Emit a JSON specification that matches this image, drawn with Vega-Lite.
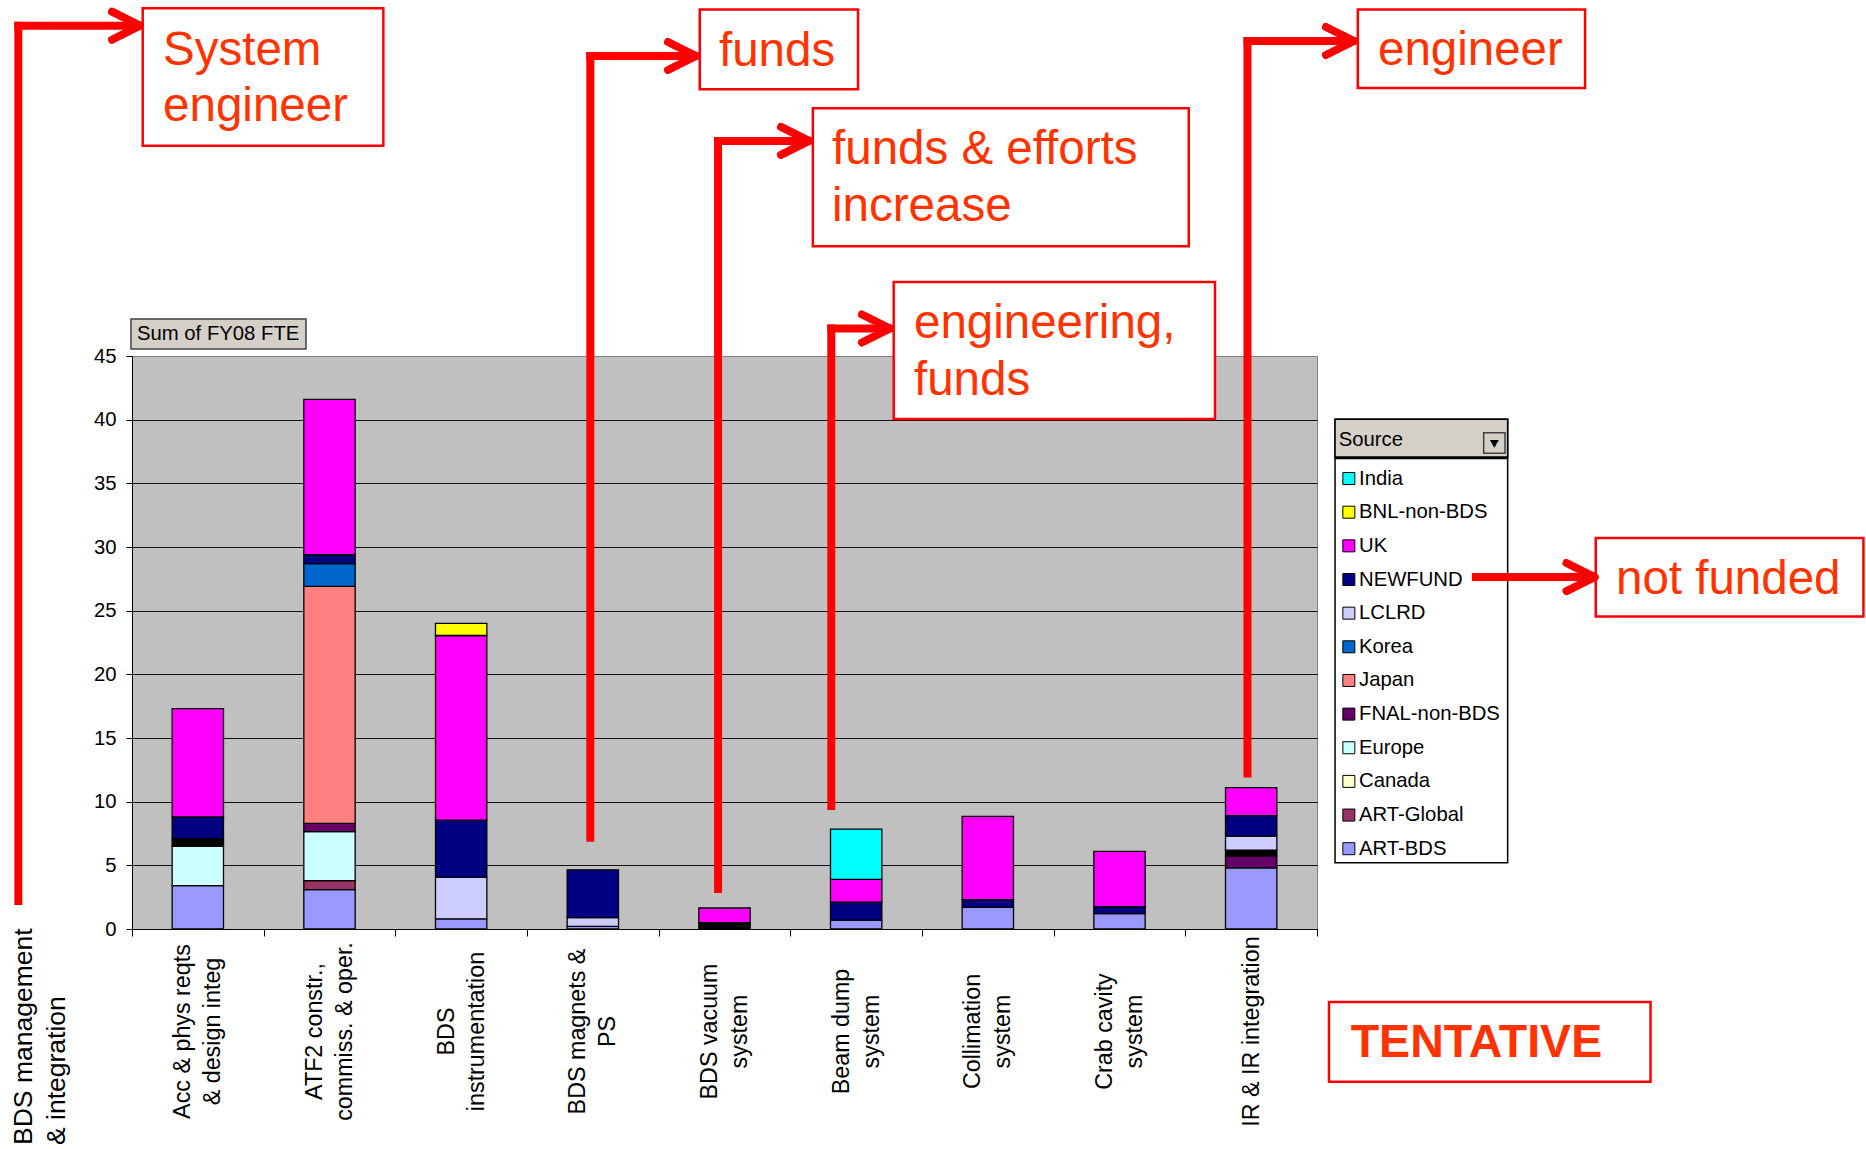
{
  "$schema": "https://vega.github.io/schema/vega-lite/v6.json",
  "width": 1185,
  "height": 573,
  "autosize": {"type": "none"},
  "padding": {"left": 132, "top": 356, "right": 549, "bottom": 220},
  "background": "white",
  "config": {
    "view": {"fill": "#C0C0C0", "stroke": "#808080", "strokeWidth": 1},
    "font": "Liberation Sans"
  },
  "datasets": {
    "fte": [
      {"Category": "Acc & phys reqts\n& design integ", "Source": "ART-BDS", "FTE": 3.4},
      {"Category": "Acc & phys reqts\n& design integ", "Source": "Europe", "FTE": 3.1},
      {"Category": "Acc & phys reqts\n& design integ", "Source": "Other", "FTE": 0.6},
      {"Category": "Acc & phys reqts\n& design integ", "Source": "NEWFUND", "FTE": 1.7},
      {"Category": "Acc & phys reqts\n& design integ", "Source": "UK", "FTE": 8.5},
      {"Category": "ATF2 constr.,\ncommiss. & oper.", "Source": "ART-BDS", "FTE": 3.1},
      {"Category": "ATF2 constr.,\ncommiss. & oper.", "Source": "ART-Global", "FTE": 0.7},
      {"Category": "ATF2 constr.,\ncommiss. & oper.", "Source": "Europe", "FTE": 3.85},
      {"Category": "ATF2 constr.,\ncommiss. & oper.", "Source": "FNAL-non-BDS", "FTE": 0.65},
      {"Category": "ATF2 constr.,\ncommiss. & oper.", "Source": "Japan", "FTE": 18.6},
      {"Category": "ATF2 constr.,\ncommiss. & oper.", "Source": "Korea", "FTE": 1.8},
      {"Category": "ATF2 constr.,\ncommiss. & oper.", "Source": "NEWFUND", "FTE": 0.7},
      {"Category": "ATF2 constr.,\ncommiss. & oper.", "Source": "UK", "FTE": 12.2},
      {"Category": "BDS\ninstrumentation", "Source": "ART-BDS", "FTE": 0.8},
      {"Category": "BDS\ninstrumentation", "Source": "LCLRD", "FTE": 3.25},
      {"Category": "BDS\ninstrumentation", "Source": "NEWFUND", "FTE": 4.5},
      {"Category": "BDS\ninstrumentation", "Source": "UK", "FTE": 14.5},
      {"Category": "BDS\ninstrumentation", "Source": "BNL-non-BDS", "FTE": 0.95},
      {"Category": "BDS magnets &\nPS", "Source": "ART-BDS", "FTE": 0.2},
      {"Category": "BDS magnets &\nPS", "Source": "LCLRD", "FTE": 0.7},
      {"Category": "BDS magnets &\nPS", "Source": "NEWFUND", "FTE": 3.75},
      {"Category": "BDS vacuum\nsystem", "Source": "Other", "FTE": 0.5},
      {"Category": "BDS vacuum\nsystem", "Source": "UK", "FTE": 1.15},
      {"Category": "Beam dump\nsystem", "Source": "ART-BDS", "FTE": 0.7},
      {"Category": "Beam dump\nsystem", "Source": "NEWFUND", "FTE": 1.4},
      {"Category": "Beam dump\nsystem", "Source": "UK", "FTE": 1.8},
      {"Category": "Beam dump\nsystem", "Source": "India", "FTE": 3.95},
      {"Category": "Collimation\nsystem", "Source": "ART-BDS", "FTE": 1.7},
      {"Category": "Collimation\nsystem", "Source": "NEWFUND", "FTE": 0.6},
      {"Category": "Collimation\nsystem", "Source": "UK", "FTE": 6.55},
      {"Category": "Crab cavity\nsystem", "Source": "ART-BDS", "FTE": 1.2},
      {"Category": "Crab cavity\nsystem", "Source": "NEWFUND", "FTE": 0.55},
      {"Category": "Crab cavity\nsystem", "Source": "UK", "FTE": 4.35},
      {"Category": "IR & IR integration", "Source": "ART-BDS", "FTE": 4.8},
      {"Category": "IR & IR integration", "Source": "FNAL-non-BDS", "FTE": 0.95},
      {"Category": "IR & IR integration", "Source": "Other", "FTE": 0.45},
      {"Category": "IR & IR integration", "Source": "LCLRD", "FTE": 1.1},
      {"Category": "IR & IR integration", "Source": "NEWFUND", "FTE": 1.6},
      {"Category": "IR & IR integration", "Source": "UK", "FTE": 2.2}
    ],
    "boxes": [
      {"kind": "legendFrame", "u1": 9.137, "u2": 10.448, "v1": 40.03, "v2": 5.21},
      {"kind": "legendHeader", "u1": 9.137, "u2": 10.448, "v1": 40.03, "v2": 37.01},
      {"kind": "legendRule", "u1": 9.137, "u2": 10.448, "v1": 37.01, "v2": 37.01},
      {"kind": "button", "u1": -0.0076, "u2": 1.3215, "v1": 47.91, "v2": 45.55},
      {"kind": "button", "u1": 10.266, "u2": 10.428, "v1": 38.98, "v2": 37.36},
      {"kind": "callout", "u1": 0.0813, "u2": 1.909, "v1": 72.31, "v2": 61.52},
      {"kind": "callout", "u1": 4.312, "u2": 5.514, "v1": 72.21, "v2": 65.95},
      {"kind": "callout", "u1": 5.171, "u2": 8.026, "v1": 64.45, "v2": 53.62},
      {"kind": "callout", "u1": 5.785, "u2": 8.225, "v1": 50.81, "v2": 40.06},
      {"kind": "callout", "u1": 9.31, "u2": 11.036, "v1": 72.21, "v2": 66.05},
      {"kind": "callout", "u1": 11.117, "u2": 13.15, "v1": 30.71, "v2": 24.55},
      {"kind": "callout", "u1": 9.091, "u2": 11.533, "v1": -5.73, "v2": -11.99}
    ],
    "arrows": [
      {"part": "shaft", "u1": -0.8635, "v1": 2.2, "u2": -0.8635, "v2": 70.94},
      {"part": "shaft", "u1": -0.8635, "v1": 70.94, "u2": 0.03, "v2": 70.94},
      {"part": "head", "u1": 0.0608, "v1": 70.94, "u2": -0.152, "v2": 72.04},
      {"part": "head", "u1": 0.0608, "v1": 70.94, "u2": -0.152, "v2": 69.84},
      {"part": "shaft", "u1": 3.481, "v1": 7.17, "u2": 3.481, "v2": 68.56},
      {"part": "shaft", "u1": 3.481, "v1": 68.56, "u2": 4.254, "v2": 68.56},
      {"part": "head", "u1": 4.284, "v1": 68.56, "u2": 4.071, "v2": 69.66},
      {"part": "head", "u1": 4.284, "v1": 68.56, "u2": 4.071, "v2": 67.46},
      {"part": "shaft", "u1": 4.451, "v1": 3.15, "u2": 4.451, "v2": 61.89},
      {"part": "shaft", "u1": 4.451, "v1": 61.89, "u2": 5.112, "v2": 61.89},
      {"part": "head", "u1": 5.142, "v1": 61.89, "u2": 4.929, "v2": 62.99},
      {"part": "head", "u1": 5.142, "v1": 61.89, "u2": 4.929, "v2": 60.79},
      {"part": "shaft", "u1": 5.311, "v1": 9.65, "u2": 5.311, "v2": 47.16},
      {"part": "shaft", "u1": 5.311, "v1": 47.16, "u2": 5.727, "v2": 47.16},
      {"part": "head", "u1": 5.757, "v1": 47.16, "u2": 5.544, "v2": 48.26},
      {"part": "head", "u1": 5.757, "v1": 47.16, "u2": 5.544, "v2": 46.06},
      {"part": "shaft", "u1": 8.472, "v1": 12.21, "u2": 8.472, "v2": 69.74},
      {"part": "shaft", "u1": 8.472, "v1": 69.74, "u2": 9.251, "v2": 69.74},
      {"part": "head", "u1": 9.281, "v1": 69.74, "u2": 9.068, "v2": 70.84},
      {"part": "head", "u1": 9.281, "v1": 69.74, "u2": 9.068, "v2": 68.64},
      {"part": "shaft", "u1": 10.207, "v1": 27.64, "u2": 11.078, "v2": 27.64},
      {"part": "head", "u1": 11.108, "v1": 27.64, "u2": 10.895, "v2": 28.74},
      {"part": "head", "u1": 11.108, "v1": 27.64, "u2": 10.895, "v2": 26.54}
    ],
    "notes": [
      {"kind": "callout", "text": "System", "u": 0.236, "v": 67.85},
      {"kind": "callout", "text": "engineer", "u": 0.236, "v": 63.42},
      {"kind": "callout", "text": "funds", "u": 4.458, "v": 67.78},
      {"kind": "callout", "text": "funds & efforts", "u": 5.317, "v": 60.05},
      {"kind": "callout", "text": "increase", "u": 5.317, "v": 55.6},
      {"kind": "callout", "text": "engineering,", "u": 5.939, "v": 46.4},
      {"kind": "callout", "text": "funds", "u": 5.939, "v": 41.95},
      {"kind": "callout", "text": "engineer", "u": 9.463, "v": 67.84},
      {"kind": "callout", "text": "not funded", "u": 11.271, "v": 26.33},
      {"kind": "stamp", "text": "TENTATIVE", "u": 9.256, "v": -10.03},
      {"kind": "category", "text": "BDS management", "u": -0.82, "v": -16.96},
      {"kind": "category", "text": "& integration", "u": -0.572, "v": -16.96},
      {"kind": "button", "text": "Sum of FY08 FTE", "u": 0.038, "v": 46.69},
      {"kind": "dropdown", "text": "", "u": 10.347, "v": 38.1}
    ]
  },
  "layer": [
    {
      "data": {"name": "fte"},
      "transform": [
        {"calculate": "indexof(['ART-BDS','ART-Global','Canada','Europe','FNAL-non-BDS','Japan','Korea','Other','LCLRD','NEWFUND','UK','BNL-non-BDS','India'], datum.Source)", "as": "stackOrder"}
      ],
      "mark": {"type": "bar", "stroke": "black", "strokeWidth": 1.3, "width": {"band": 0.39}},
      "encoding": {
        "x": {
          "field": "Category", "type": "nominal", "sort": null,
          "scale": {"paddingInner": 0, "paddingOuter": 0},
          "axis": {
            "title": null, "labelAngle": -90, "labelAlign": "center", "labelBaseline": "middle",
            "labelFont": "Liberation Sans", "labelFontSize": 23.3, "labelLineHeight": 30, "labelColor": "black",
            "labelPadding": 95, "labelLimit": 400, "labelOverlap": false,
            "labelOffset": {"condition": {"test": "indexof(datum.label, '\\n') >= 0", "value": -15}, "value": 0},
            "labelExpr": "split(datum.label, '\\n')",
            "tickBand": "extent", "tickSize": 7, "tickColor": "black", "tickWidth": 1,
            "domainColor": "black", "domainWidth": 1, "grid": false
          }
        },
        "y": {
          "field": "FTE", "type": "quantitative", "stack": "zero",
          "scale": {"domain": [0, 45], "nice": false},
          "axis": {
            "title": null, "values": [0, 5, 10, 15, 20, 25, 30, 35, 40, 45],
            "labelFont": "Liberation Sans", "labelFontSize": 20.3, "labelColor": "black", "labelPadding": 10,
            "tickSize": 6, "tickColor": "black", "tickWidth": 1,
            "domainColor": "black", "domainWidth": 1,
            "grid": true, "gridWidth": 1.2,
            "gridColor": {"condition": {"test": "datum.value == 45", "value": "#808080"}, "value": "#111111"}
          }
        },
        "color": {
          "field": "Source", "type": "nominal",
          "scale": {
            "domain": ["India", "BNL-non-BDS", "UK", "NEWFUND", "LCLRD", "Korea", "Japan", "FNAL-non-BDS", "Europe", "Canada", "ART-Global", "ART-BDS", "Other"],
            "range": ["#00FFFF", "#FFFF00", "#FF00FF", "#000080", "#CCCCFF", "#0066CC", "#FF8080", "#660066", "#CCFFFF", "#FFFFCC", "#993366", "#9999FF", "#000000"]
          },
          "legend": {
            "orient": "none", "legendX": 1206.7, "legendY": 73.7, "direction": "vertical", "columns": 1,
            "title": "Source", "titleFont": "Liberation Sans", "titleFontSize": 20.3, "titleFontWeight": "normal", "titleColor": "black",
            "titlePadding": 18.4,
            "labelFont": "Liberation Sans", "labelFontSize": 20.3, "labelColor": "black", "labelOffset": 0, "labelLimit": 300,
            "symbolType": "square", "symbolSize": 144, "symbolStrokeColor": "black", "symbolStrokeWidth": 1,
            "rowPadding": 12.65, "padding": 0,
            "values": ["India", "BNL-non-BDS", "UK", "NEWFUND", "LCLRD", "Korea", "Japan", "FNAL-non-BDS", "Europe", "Canada", "ART-Global", "ART-BDS"]
          }
        },
        "order": {"field": "stackOrder", "type": "quantitative"}
      }
    },
    {
      "layer": [
        {
          "data": {"name": "boxes"},
          "transform": [{"filter": "datum.kind == 'legendFrame'"}],
          "mark": {"type": "rect", "fill": "white", "stroke": "black", "strokeWidth": 1.5},
          "encoding": {
            "x": {"field": "u1", "type": "quantitative", "scale": {"domain": [0, 9], "nice": false, "zero": false}, "axis": null},
            "x2": {"field": "u2"},
            "y": {"field": "v1", "type": "quantitative", "scale": {"domain": [0, 45], "nice": false, "zero": false}, "axis": null},
            "y2": {"field": "v2"}
          }
        },
        {
          "data": {"name": "boxes"},
          "transform": [{"filter": "datum.kind == 'legendHeader'"}],
          "mark": {"type": "rect", "fill": "#D4D0C8", "stroke": "black", "strokeWidth": 1.5},
          "encoding": {
            "x": {"field": "u1", "type": "quantitative", "scale": {"domain": [0, 9], "nice": false, "zero": false}, "axis": null},
            "x2": {"field": "u2"},
            "y": {"field": "v1", "type": "quantitative", "scale": {"domain": [0, 45], "nice": false, "zero": false}, "axis": null},
            "y2": {"field": "v2"}
          }
        },
        {
          "data": {"name": "boxes"},
          "transform": [{"filter": "datum.kind == 'legendRule'"}],
          "mark": {"type": "rule", "stroke": "black", "strokeWidth": 3},
          "encoding": {
            "x": {"field": "u1", "type": "quantitative", "scale": {"domain": [0, 9], "nice": false, "zero": false}, "axis": null},
            "x2": {"field": "u2"},
            "y": {"field": "v1", "type": "quantitative", "scale": {"domain": [0, 45], "nice": false, "zero": false}, "axis": null}
          }
        },
        {
          "data": {"name": "boxes"},
          "transform": [{"filter": "datum.kind == 'button'"}],
          "mark": {"type": "rect", "fill": "#D4D0C8", "stroke": "#404040", "strokeWidth": 1.5},
          "encoding": {
            "x": {"field": "u1", "type": "quantitative", "scale": {"domain": [0, 9], "nice": false, "zero": false}, "axis": null},
            "x2": {"field": "u2"},
            "y": {"field": "v1", "type": "quantitative", "scale": {"domain": [0, 45], "nice": false, "zero": false}, "axis": null},
            "y2": {"field": "v2"}
          }
        },
        {
          "data": {"name": "notes"},
          "transform": [{"filter": "datum.kind == 'dropdown'"}],
          "mark": {"type": "point", "shape": "triangle-down", "size": 80, "filled": true, "color": "black", "opacity": 1},
          "encoding": {
            "x": {"field": "u", "type": "quantitative", "scale": {"domain": [0, 9], "nice": false, "zero": false}, "axis": null},
            "y": {"field": "v", "type": "quantitative", "scale": {"domain": [0, 45], "nice": false, "zero": false}, "axis": null}
          }
        },
        {
          "data": {"name": "boxes"},
          "transform": [{"filter": "datum.kind == 'callout'"}],
          "mark": {"type": "rect", "fill": "white", "stroke": "#FF0000", "strokeWidth": 2.5},
          "encoding": {
            "x": {"field": "u1", "type": "quantitative", "scale": {"domain": [0, 9], "nice": false, "zero": false}, "axis": null},
            "x2": {"field": "u2"},
            "y": {"field": "v1", "type": "quantitative", "scale": {"domain": [0, 45], "nice": false, "zero": false}, "axis": null},
            "y2": {"field": "v2"}
          }
        },
        {
          "data": {"name": "arrows"},
          "transform": [{"filter": "datum.part == 'shaft'"}],
          "mark": {"type": "rule", "stroke": "#FF0000", "strokeWidth": 8, "strokeCap": "square"},
          "encoding": {
            "x": {"field": "u1", "type": "quantitative", "scale": {"domain": [0, 9], "nice": false, "zero": false}, "axis": null},
            "x2": {"field": "u2"},
            "y": {"field": "v1", "type": "quantitative", "scale": {"domain": [0, 45], "nice": false, "zero": false}, "axis": null},
            "y2": {"field": "v2"}
          }
        },
        {
          "data": {"name": "arrows"},
          "transform": [{"filter": "datum.part == 'head'"}],
          "mark": {"type": "rule", "stroke": "#FF0000", "strokeWidth": 8, "strokeCap": "round"},
          "encoding": {
            "x": {"field": "u1", "type": "quantitative", "scale": {"domain": [0, 9], "nice": false, "zero": false}, "axis": null},
            "x2": {"field": "u2"},
            "y": {"field": "v1", "type": "quantitative", "scale": {"domain": [0, 45], "nice": false, "zero": false}, "axis": null},
            "y2": {"field": "v2"}
          }
        },
        {
          "data": {"name": "notes"},
          "transform": [{"filter": "datum.kind == 'callout'"}],
          "mark": {"type": "text", "font": "Liberation Sans", "fontSize": 47.5, "fill": "#FF3300", "align": "left", "baseline": "alphabetic"},
          "encoding": {
            "x": {"field": "u", "type": "quantitative", "scale": {"domain": [0, 9], "nice": false, "zero": false}, "axis": null},
            "y": {"field": "v", "type": "quantitative", "scale": {"domain": [0, 45], "nice": false, "zero": false}, "axis": null},
            "text": {"field": "text"}
          }
        },
        {
          "data": {"name": "notes"},
          "transform": [{"filter": "datum.kind == 'stamp'"}],
          "mark": {"type": "text", "font": "Liberation Sans", "fontSize": 46.5, "fontWeight": "bold", "fill": "#FF3300", "align": "left", "baseline": "alphabetic"},
          "encoding": {
            "x": {"field": "u", "type": "quantitative", "scale": {"domain": [0, 9], "nice": false, "zero": false}, "axis": null},
            "y": {"field": "v", "type": "quantitative", "scale": {"domain": [0, 45], "nice": false, "zero": false}, "axis": null},
            "text": {"field": "text"}
          }
        },
        {
          "data": {"name": "notes"},
          "transform": [{"filter": "datum.kind == 'category'"}],
          "mark": {"type": "text", "font": "Liberation Sans", "fontSize": 26.5, "fill": "black", "align": "left", "baseline": "middle", "angle": 270},
          "encoding": {
            "x": {"field": "u", "type": "quantitative", "scale": {"domain": [0, 9], "nice": false, "zero": false}, "axis": null},
            "y": {"field": "v", "type": "quantitative", "scale": {"domain": [0, 45], "nice": false, "zero": false}, "axis": null},
            "text": {"field": "text"}
          }
        },
        {
          "data": {"name": "notes"},
          "transform": [{"filter": "datum.kind == 'button'"}],
          "mark": {"type": "text", "font": "Liberation Sans", "fontSize": 20.3, "fill": "black", "align": "left", "baseline": "middle"},
          "encoding": {
            "x": {"field": "u", "type": "quantitative", "scale": {"domain": [0, 9], "nice": false, "zero": false}, "axis": null},
            "y": {"field": "v", "type": "quantitative", "scale": {"domain": [0, 45], "nice": false, "zero": false}, "axis": null},
            "text": {"field": "text"}
          }
        }
      ]
    }
  ],
  "resolve": {"scale": {"x": "independent", "y": "independent"}}
}
